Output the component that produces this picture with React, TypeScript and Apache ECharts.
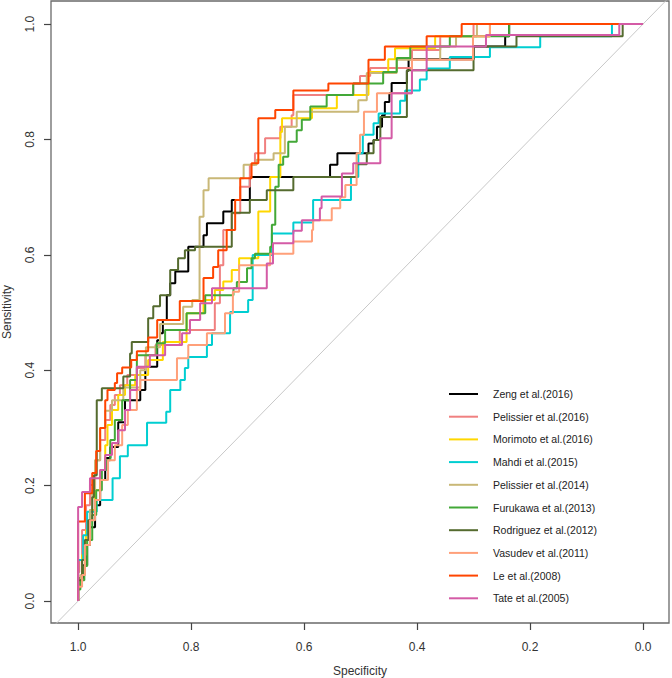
import React, { useEffect, useRef } from "react";
import * as echarts from "echarts";

// Study names (legend order) and colours
const studyNames = [
  "Zeng et al.(2016)",
  "Pelissier et al.(2016)",
  "Morimoto et al.(2016)",
  "Mahdi et al.(2015)",
  "Pelissier et al.(2014)",
  "Furukawa et al.(2013)",
  "Rodriguez et al.(2012)",
  "Vasudev et al.(2011)",
  "Le et al.(2008)",
  "Tate et al.(2005)",
];
const studyColors = [
  "#000000",
  "#F08080",
  "#FFD700",
  "#00CED1",
  "#C9B877",
  "#43A838",
  "#556B2F",
  "#FFA07A",
  "#FF4500",
  "#D45BA6",
];

// ROC step points: [specificity, sensitivity]
const zeng = [[1,0],[1,0.04],[0.991,0.062],[0.984,0.097],[0.979,0.128],[0.970,0.166],[0.961,0.210],[0.952,0.248],[0.943,0.267],[0.929,0.310],[0.917,0.348],[0.890,0.366],[0.881,0.406],[0.860,0.452],[0.855,0.464],[0.850,0.487],[0.843,0.530],[0.837,0.551],[0.828,0.571],[0.805,0.614],[0.778,0.634],[0.772,0.655],[0.743,0.675],[0.728,0.695],[0.696,0.735],[0.554,0.756],[0.541,0.776],[0.486,0.793],[0.477,0.799],[0.471,0.822],[0.462,0.842],[0.457,0.865],[0.449,0.880],[0.445,0.898],[0.418,0.919],[0.415,0.939],[0.300,0.961],[0.244,0.979],[0.237,1.0],[0,1]];
const pelissier2016 = [[1,0],[1,0.05],[0.998,0.071],[0.993,0.123],[0.986,0.166],[0.979,0.201],[0.970,0.244],[0.961,0.279],[0.952,0.314],[0.943,0.340],[0.935,0.357],[0.926,0.374],[0.913,0.392],[0.896,0.404],[0.881,0.426],[0.863,0.444],[0.820,0.470],[0.758,0.516],[0.749,0.582],[0.743,0.643],[0.728,0.672],[0.713,0.718],[0.696,0.756],[0.687,0.776],[0.669,0.802],[0.642,0.822],[0.622,0.842],[0.619,0.877],[0.513,0.897],[0.501,0.910],[0.483,0.924],[0.409,0.955],[0.359,0.979],[0.300,1.0],[0,1]];
const morimoto = [[1,0],[1,0.036],[0.993,0.080],[0.986,0.123],[0.979,0.158],[0.970,0.192],[0.961,0.227],[0.952,0.270],[0.948,0.305],[0.940,0.331],[0.929,0.357],[0.917,0.374],[0.899,0.392],[0.876,0.418],[0.850,0.449],[0.808,0.499],[0.778,0.522],[0.758,0.539],[0.743,0.554],[0.728,0.574],[0.715,0.594],[0.681,0.675],[0.660,0.735],[0.642,0.813],[0.639,0.837],[0.586,0.854],[0.542,0.877],[0.486,0.917],[0.451,0.939],[0.439,0.958],[0.368,0.979],[0.271,1.0],[0,1]];
const mahdi = [[1,0],[1,0.071],[0.991,0.114],[0.984,0.155],[0.967,0.175],[0.939,0.213],[0.926,0.251],[0.912,0.270],[0.878,0.309],[0.844,0.328],[0.837,0.366],[0.819,0.383],[0.811,0.404],[0.805,0.423],[0.772,0.444],[0.763,0.464],[0.731,0.501],[0.699,0.522],[0.691,0.600],[0.657,0.637],[0.619,0.656],[0.584,0.695],[0.517,0.735],[0.504,0.776],[0.496,0.808],[0.477,0.828],[0.468,0.845],[0.430,0.867],[0.421,0.885],[0.395,0.904],[0.383,0.923],[0.342,0.943],[0.271,0.960],[0.182,0.979],[0.055,1.0],[0,1]];
const pelissier2014 = [[1,0],[1,0.03],[0.996,0.045],[0.988,0.097],[0.979,0.158],[0.975,0.192],[0.970,0.244],[0.961,0.300],[0.952,0.330],[0.940,0.348],[0.920,0.370],[0.890,0.400],[0.880,0.440],[0.855,0.480],[0.814,0.510],[0.798,0.522],[0.785,0.666],[0.778,0.712],[0.769,0.733],[0.707,0.756],[0.684,0.765],[0.654,0.776],[0.634,0.822],[0.613,0.848],[0.504,0.868],[0.489,0.915],[0.436,0.938],[0.359,0.961],[0.331,0.979],[0.294,1.0],[0,1]];
const furukawa = [[1,0],[1,0.02],[0.996,0.036],[0.989,0.061],[0.984,0.106],[0.975,0.149],[0.968,0.192],[0.958,0.227],[0.950,0.244],[0.943,0.279],[0.935,0.314],[0.922,0.348],[0.908,0.383],[0.896,0.426],[0.861,0.447],[0.846,0.470],[0.808,0.499],[0.775,0.530],[0.725,0.542],[0.719,0.553],[0.701,0.577],[0.693,0.594],[0.687,0.602],[0.660,0.614],[0.657,0.652],[0.651,0.718],[0.645,0.756],[0.637,0.770],[0.628,0.796],[0.613,0.816],[0.604,0.834],[0.589,0.857],[0.560,0.877],[0.513,0.897],[0.460,0.917],[0.436,0.941],[0.412,0.961],[0.342,0.979],[0.237,1.0],[0,1]];
const rodriguez = [[1,0],[1,0.036],[0.993,0.071],[0.988,0.106],[0.982,0.140],[0.975,0.180],[0.972,0.218],[0.967,0.348],[0.958,0.369],[0.920,0.389],[0.908,0.429],[0.905,0.449],[0.876,0.490],[0.867,0.511],[0.855,0.530],[0.837,0.574],[0.823,0.594],[0.811,0.608],[0.793,0.614],[0.728,0.673],[0.696,0.695],[0.666,0.712],[0.619,0.735],[0.507,0.757],[0.489,0.776],[0.477,0.799],[0.465,0.839],[0.418,0.920],[0.300,0.961],[0.224,0.979],[0.036,1.0],[0,1]];
const vasudev = [[1,0],[1,0.025],[0.993,0.045],[0.988,0.097],[0.979,0.140],[0.970,0.175],[0.961,0.210],[0.947,0.244],[0.935,0.270],[0.922,0.305],[0.912,0.331],[0.896,0.366],[0.890,0.383],[0.825,0.421],[0.805,0.444],[0.772,0.464],[0.740,0.499],[0.726,0.536],[0.715,0.582],[0.660,0.602],[0.619,0.623],[0.586,0.643],[0.584,0.660],[0.551,0.681],[0.536,0.700],[0.527,0.721],[0.507,0.776],[0.501,0.808],[0.494,0.848],[0.471,0.880],[0.409,0.938],[0.301,0.979],[0.271,1.0],[0,1]];
const le = [[1,0],[1,0.138],[0.988,0.187],[0.975,0.222],[0.968,0.260],[0.961,0.300],[0.952,0.348],[0.948,0.366],[0.935,0.378],[0.931,0.395],[0.922,0.405],[0.906,0.418],[0.896,0.433],[0.876,0.457],[0.860,0.487],[0.820,0.520],[0.778,0.560],[0.761,0.579],[0.752,0.608],[0.737,0.643],[0.722,0.695],[0.713,0.733],[0.693,0.759],[0.681,0.837],[0.651,0.851],[0.619,0.885],[0.557,0.897],[0.486,0.938],[0.457,0.961],[0.383,0.979],[0.321,1.0],[0,1]];
const tate = [[1,0],[1,0.163],[0.993,0.189],[0.979,0.213],[0.961,0.227],[0.952,0.253],[0.940,0.274],[0.929,0.296],[0.917,0.331],[0.908,0.366],[0.896,0.406],[0.873,0.426],[0.846,0.444],[0.816,0.464],[0.802,0.487],[0.784,0.516],[0.763,0.542],[0.666,0.585],[0.655,0.620],[0.619,0.642],[0.604,0.660],[0.572,0.681],[0.569,0.701],[0.533,0.741],[0.513,0.759],[0.465,0.802],[0.445,0.880],[0.409,0.920],[0.383,0.961],[0.278,0.981],[0.042,1.0],[0,1]];

// Chance diagonal (sensitivity = 1 - specificity)
const diagonal = [[1.1,-0.1],[-0.1,1.1]];

const tickValues = [0, 0.2, 0.4, 0.6, 0.8, 1.0];
const xAxisTitle = "Specificity";
const yAxisTitle = "Sensitivity";

export default function App() {
  const ref = useRef<HTMLDivElement>(null);
  useEffect(() => {
    document.body.style.margin = "0";
    const chart = echarts.init(ref.current as HTMLDivElement, null, { renderer: "svg" });
    const curves = [zeng, pelissier2016, morimoto, mahdi, pelissier2014, furukawa, rodriguez, vasudev, le, tate];
    const font = "Liberation Sans, Arial, sans-serif";

    const legendTop = 394;
    const legendStep = 22.7;
    const legendGraphics: any[] = [];
    studyNames.forEach((name, i) => {
      const y = legendTop + legendStep * i;
      legendGraphics.push({
        type: "line",
        shape: { x1: 449, y1: y, x2: 478, y2: y },
        style: { stroke: studyColors[i], lineWidth: 2 },
        silent: true,
      });
      legendGraphics.push({
        type: "text",
        x: 493,
        y: y,
        style: {
          text: name,
          fill: "#222",
          font: `10.5px ${font}`,
          verticalAlign: "middle",
          align: "left",
        },
        silent: true,
      });
    });

    const option: any = {
      animation: false,
      backgroundColor: "#ffffff",
      grid: {
        left: 51,
        right: 3,
        top: 1,
        bottom: 55,
        containLabel: false,
        outerBoundsMode: "none",
        show: true,
        borderColor: "#6a6a6a",
        borderWidth: 1.3,
      },
      xAxis: {
        type: "value",
        inverse: true,
        min: -0.046,
        max: 1.048,
        splitLine: { show: false },
        axisLine: { show: false, onZero: false },
        axisTick: {
          show: true,
          inside: false,
          length: 7,
          customValues: tickValues,
          lineStyle: { color: "#444", width: 1.2 },
        },
        axisLabel: {
          customValues: tickValues,
          formatter: (v: number) => v.toFixed(1),
          margin: 18,
          fontSize: 12,
          color: "#333",
          fontFamily: font,
        },
        name: xAxisTitle,
        nameLocation: "middle",
        nameGap: 42,
        nameTextStyle: { fontSize: 12, color: "#333", fontFamily: font },
      },
      yAxis: {
        type: "value",
        min: -0.038,
        max: 1.04,
        splitLine: { show: false },
        axisLine: { show: false, onZero: false },
        axisTick: {
          show: true,
          inside: false,
          length: 7,
          customValues: tickValues,
          lineStyle: { color: "#444", width: 1.2 },
        },
        axisLabel: {
          customValues: tickValues,
          formatter: (v: number) => v.toFixed(1),
          rotate: 90,
          margin: 15,
          fontSize: 12,
          color: "#333",
          fontFamily: font,
        },
        name: yAxisTitle,
        nameLocation: "middle",
        nameRotate: 90,
        nameGap: 38,
        nameTextStyle: { fontSize: 12, color: "#333", fontFamily: font },
      },
      series: [
        {
          type: "line",
          name: "diagonal",
          data: diagonal,
          symbol: "none",
          silent: true,
          clip: true,
          lineStyle: { color: "#c8c8c8", width: 1 },
        },
        ...curves.map((d, i) => ({
          type: "line",
          name: studyNames[i],
          data: d,
          step: "end",
          symbol: "none",
          showSymbol: false,
          clip: true,
          lineStyle: { color: studyColors[i], width: 2 },
          itemStyle: { color: studyColors[i] },
        })),
      ],
      graphic: legendGraphics,
    };
    chart.setOption(option);
    return () => chart.dispose();
  }, []);
  return <div ref={ref} style={{ width: 672, height: 678 }} />;
}
